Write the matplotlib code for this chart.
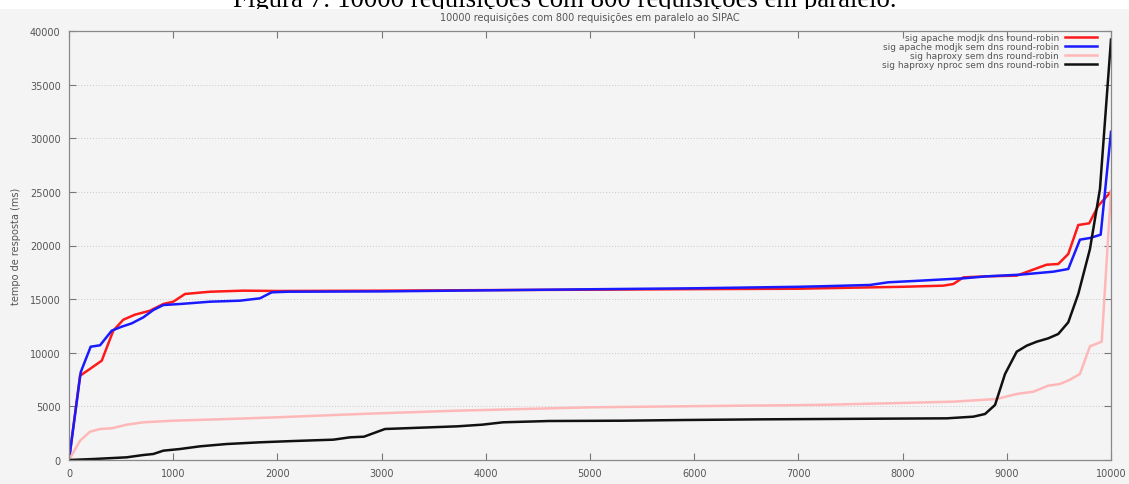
import matplotlib
matplotlib.use("Agg")
import matplotlib.pyplot as plt
from matplotlib.patches import Rectangle

# Sorted response times (ms) per request index, for each load-balancing setup
apache_dns_x = [0, 106, 200, 314, 425, 521, 633, 777, 905, 1001, 1113, 1353, 1673, 2000, 3000, 4000,
                5000, 6000, 7000, 7207, 8000, 8390, 8487, 8583, 8807, 9095, 9286, 9382, 9494, 9590,
                9686, 9791, 9878, 10000]
apache_dns_y = [0, 7860, 8485, 9260, 12060, 13080, 13550, 13920, 14545, 14760, 15480, 15690, 15790,
                15760, 15790, 15840, 15880, 15930, 15970, 16010, 16150, 16255, 16410, 17030, 17125,
                17190, 17870, 18210, 18275, 19210, 21910, 22070, 23710, 25020]

apache_nodns_x = [0, 112, 208, 298, 410, 506, 602, 713, 809, 905, 1065, 1353, 1641, 1833, 1945, 2100,
                  3000, 4000, 5000, 6000, 7000, 7207, 7687, 7863, 8167, 8583, 8807, 9127, 9446, 9590,
                  9702, 9798, 9901, 10000]
apache_nodns_y = [0, 8175, 10565, 10695, 12060, 12430, 12740, 13300, 13985, 14450, 14545, 14760, 14855,
                  15075, 15635, 15690, 15720, 15820, 15920, 16010, 16150, 16195, 16320, 16570, 16720,
                  16940, 17125, 17280, 17560, 17810, 20545, 20700, 21010, 30600]

haproxy_x = [0, 106, 202, 298, 410, 553, 713, 1001, 1513, 1993, 2793, 3728, 5000, 5720, 7207, 7981,
             8487, 8903, 9095, 9255, 9398, 9510, 9606, 9702, 9798, 9911, 10000]
haproxy_y = [0, 1800, 2640, 2890, 2955, 3290, 3515, 3665, 3820, 3980, 4290, 4600, 4910, 4990, 5140,
             5315, 5440, 5690, 6155, 6370, 6930, 7085, 7490, 8020, 10600, 11030, 25100]

nproc_x = [0, 233, 553, 713, 809, 905, 1065, 1257, 1513, 1833, 2153, 2537, 2697, 2831, 3032, 3728,
           3967, 4165, 4605, 5317, 5918, 6632, 7750, 8423, 8679, 8791, 8887, 8983, 9095, 9191, 9287,
           9398, 9494, 9590, 9686, 9798, 9894, 10000]
nproc_y = [0, 90, 250, 465, 560, 870, 1025, 1275, 1490, 1650, 1770, 1895, 2115, 2175, 2890, 3140,
           3295, 3515, 3635, 3665, 3730, 3790, 3850, 3885, 4040, 4290, 5130, 8020, 10100, 10660, 11030,
           11345, 11750, 12840, 15480, 19670, 25270, 39200]

series_labels = [
    "sig apache modjk dns round-robin",
    "sig apache modjk sem dns round-robin",
    "sig haproxy sem dns round-robin",
    "sig haproxy nproc sem dns round-robin",
]
x_ticks = list(range(0, 10001, 1000))
y_ticks = list(range(0, 40001, 5000))

BG = "#f4f4f4"
TXT = "#555555"

fig = plt.figure(figsize=(11.29, 4.85), dpi=100, facecolor="white")
# document caption sits above the plot panel; the panel overlaps its lower edge
fig.text(0.5, 1 - 7 / 485, "Figura 7: 10000 requisições com 800 requisições em paralelo.",
         ha="center", va="baseline", fontsize=19.3, family="Liberation Serif", color="black",
         zorder=-3)
fig.add_artist(Rectangle((0, 0), 1, 1 - 10 / 485, transform=fig.transFigure,
                         facecolor=BG, edgecolor="none", zorder=-2))

ax = fig.add_axes([69 / 1129, 1 - 461 / 485, (1111 - 69) / 1129, (461 - 32) / 485])
ax.set_facecolor(BG)

ax.plot(apache_dns_x, apache_dns_y, color="#ff1a1a", lw=1.8, label=series_labels[0])
ax.plot(apache_nodns_x, apache_nodns_y, color="#1a1aff", lw=1.8, label=series_labels[1])
ax.plot(haproxy_x, haproxy_y, color="#ffb8b8", lw=1.8, label=series_labels[2])
ax.plot(nproc_x, nproc_y, color="#111111", lw=1.8, label=series_labels[3])

ax.set_xlim(0, 10000)
ax.set_ylim(0, 40000)
ax.set_xticks(x_ticks)
ax.set_yticks(y_ticks)
ax.tick_params(direction="in", length=5, width=0.8, color="#777777", labelcolor=TXT,
               labelsize=7, top=True, right=True, pad=6)
ax.yaxis.grid(True, linestyle=(0, (1, 2)), color="#c8c8c8", lw=0.7)
for s in ax.spines.values():
    s.set_color("#888888")
    s.set_linewidth(0.9)

ax.set_title("10000 requisições com 800 requisições em paralelo ao SIPAC",
             fontsize=7, color=TXT, pad=8)
ax.set_xlabel("requisição", fontsize=7, color=TXT, labelpad=6)
ax.set_ylabel("tempo de resposta (ms)", fontsize=7, color=TXT, labelpad=6)

leg = ax.legend(loc="upper right", frameon=False, fontsize=6.5, markerfirst=False,
                handlelength=3.5, handletextpad=0.7, labelspacing=0.0,
                borderpad=0.1, borderaxespad=0.1, bbox_to_anchor=(0.988, 1.0))
for t in leg.get_texts():
    t.set_color(TXT)

fig.savefig("out.png", dpi=100, facecolor="white")
